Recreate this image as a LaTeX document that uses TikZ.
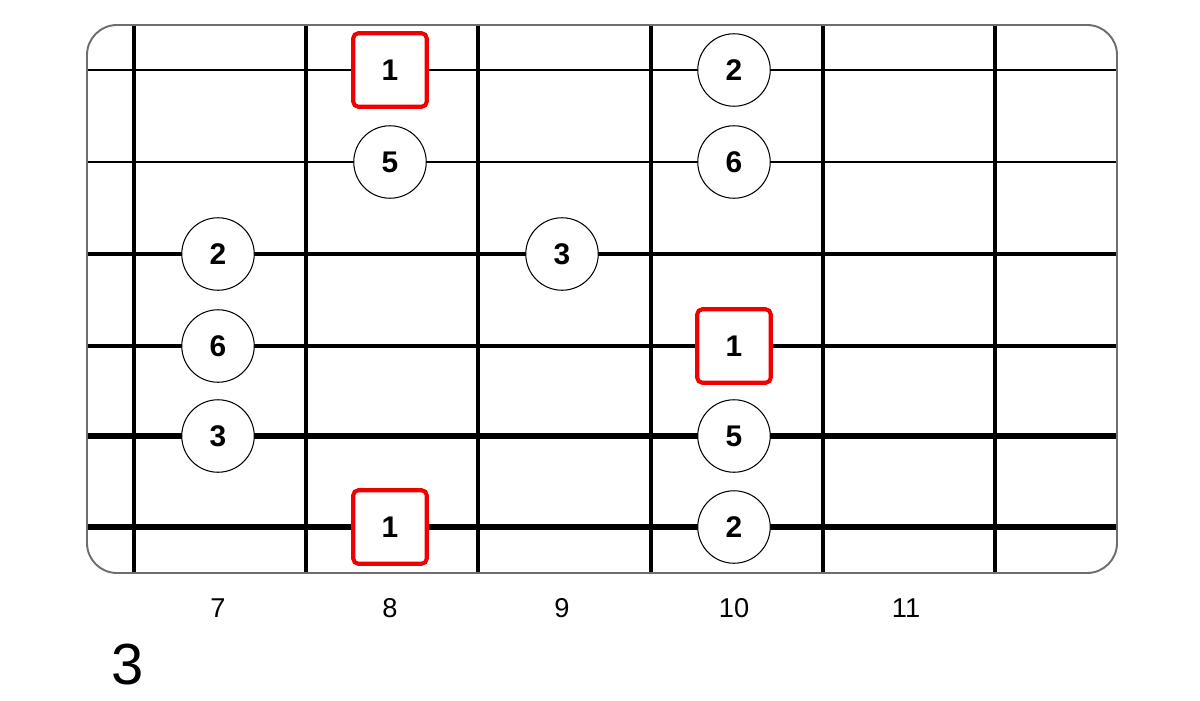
\documentclass[tikz,border=0pt]{standalone}
\usepackage{fontspec}
\setmainfont{Liberation Sans}
\usepackage{xcolor}
\usepackage{tikz}

\definecolor{rootred}{RGB}{240,0,0}
\definecolor{boardgray}{RGB}{110,110,110}

\begin{document}
\begin{tikzpicture}[
    x=0.02cm, y=-0.02cm,
    fret/.style={
        line width=1.9pt,
        draw=black
    },
    note/.style={
        circle,
        draw=black,
        fill=white,
        line width=0.6pt,
        minimum size=1.45cm,
        inner sep=0pt,
        font=\fontsize{17}{17}\selectfont\bfseries
    },
    root/.style={
        rectangle,
        rounded corners=0.1cm,
        draw=rootred,
        fill=white,
        line width=2.3pt,
        minimum size=1.47cm,
        inner sep=0pt,
        font=\fontsize{17}{17}\selectfont\bfseries
    },
    fretnum/.style={
        font=\fontsize{15.5}{15.5}\selectfont
    }
]

\useasboundingbox (0,0) rectangle (1200,700);

% strings, thin to thick
\draw[line width=1.2pt] (87,70) -- (1117,70);
\draw[line width=1.7pt] (87,162) -- (1117,162);
\draw[line width=2.1pt] (87,254) -- (1117,254);
\draw[line width=2.6pt] (87,346) -- (1117,346);
\draw[line width=3.1pt] (87,436) -- (1117,436);
\draw[line width=3.5pt] (87,527) -- (1117,527);

% frets
\draw[fret] (134,25) -- (134,573);
\draw[fret] (306,25) -- (306,573);
\draw[fret] (478,25) -- (478,573);
\draw[fret] (651,25) -- (651,573);
\draw[fret] (823,25) -- (823,573);
\draw[fret] (995,25) -- (995,573);

% board outline
\draw[boardgray, line width=1.1pt, rounded corners=0.6cm] (87,25) rectangle (1117,573);

% notes
\node[root] (r1) at (390,70) {1};
\node[note] (n2a) at (734,70) {2};

\node[note] (n5a) at (390,162) {5};
\node[note] (n6a) at (734,162) {6};

\node[note] (n2b) at (218,254) {2};
\node[note] (n3a) at (562,254) {3};

\node[note] (n6b) at (218,346) {6};
\node[root] (r2) at (734,346) {1};

\node[note] (n3b) at (218,436) {3};
\node[note] (n5b) at (734,436) {5};

\node[root] (r3) at (390,527) {1};
\node[note] (n2c) at (734,527) {2};

% fret numbers
\node[fretnum] (f7) at (218,608) {7};
\node[fretnum] (f8) at (390,608) {8};
\node[fretnum] (f9) at (562,608) {9};
\node[fretnum] (f10) at (734,608) {10};
\node[fretnum] (f11) at (906,608) {11};

\node[font=\fontsize{33}{33}\selectfont] (pos) at (128,665) {3};

\end{tikzpicture}
\end{document}
